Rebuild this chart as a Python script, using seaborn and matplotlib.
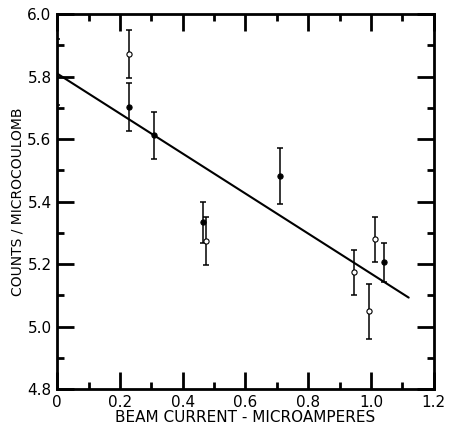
import numpy as np
import pandas as pd
import matplotlib
matplotlib.use("Agg")
import matplotlib.pyplot as plt
import seaborn as sns
from matplotlib.ticker import MultipleLocator

# Measured points (beam current, counts per microcoulomb, error)
current = [0.0, 0.23, 0.23, 0.31, 0.465, 0.475, 0.71, 0.945, 0.995, 1.013, 1.04]
counts = [5.815, 5.872, 5.703, 5.613, 5.334, 5.274, 5.482, 5.174, 5.050, 5.280, 5.206]
errors = [0.105, 0.077, 0.077, 0.075, 0.065, 0.077, 0.09, 0.072, 0.088, 0.072, 0.062]
kind = ["filled", "open", "filled", "filled", "filled", "open", "filled",
        "open", "open", "open", "filled"]

# Fitted straight line
fit_x = [0.0, 1.12]
fit_y = [5.81, 5.093]

df = pd.DataFrame({"current": current, "counts": counts, "err": errors, "kind": kind})

sns.set_style("ticks", {"axes.edgecolor": "black", "xtick.color": "black",
                        "ytick.color": "black", "text.color": "black",
                        "axes.labelcolor": "black"})
plt.rcParams['font.family'] = ['DejaVu Sans']

fig = plt.figure(figsize=(4.5, 4.3), dpi=100)
ax = fig.add_axes([0.127, 0.095, 0.837, 0.872])

ax.errorbar(df["current"], df["counts"], yerr=df["err"], fmt="none",
            ecolor="black", elinewidth=1.1, capsize=2.5, capthick=1.1, zorder=2)

sns.lineplot(x=fit_x, y=fit_y, color="black", linewidth=1.5, ax=ax, zorder=3)

filled = df[(df["kind"] == "filled") & (df["current"] > 0)]
opened = df[df["kind"] == "open"]
sns.scatterplot(data=filled, x="current", y="counts", color="black", s=14,
                edgecolor="black", linewidth=0.8, ax=ax, zorder=4)
sns.scatterplot(data=opened, x="current", y="counts", color="white", s=14,
                edgecolor="black", linewidth=0.8, ax=ax, zorder=4)

ax.set_xlim(0, 1.2)
ax.set_ylim(4.8, 6.0)
ax.set_xticks(np.arange(0, 1.21, 0.2))
ax.set_xticklabels(["0", "0.2", "0.4", "0.6", "0.8", "1.0", "1.2"])
ax.set_yticks(np.arange(4.8, 6.01, 0.2))
ax.set_yticklabels(["4.8", "5.0", "5.2", "5.4", "5.6", "5.8", "6.0"])
ax.xaxis.set_minor_locator(MultipleLocator(0.1))
ax.yaxis.set_minor_locator(MultipleLocator(0.1))

ax.tick_params(which="both", direction="in", top=True, right=True, width=2,
               labelsize=11, pad=4, colors="black")
ax.tick_params(which="major", length=12)
ax.tick_params(which="minor", length=5)
for s in ax.spines.values():
    s.set_linewidth(2)
    s.set_color("black")
    s.set_visible(True)

ax.set_xlabel("BEAM CURRENT - MICROAMPERES", fontsize=11, labelpad=0, color="black")
ax.set_ylabel("COUNTS / MICROCOULOMB", fontsize=10, labelpad=2, color="black")

fig.savefig("out.png", dpi=100)
